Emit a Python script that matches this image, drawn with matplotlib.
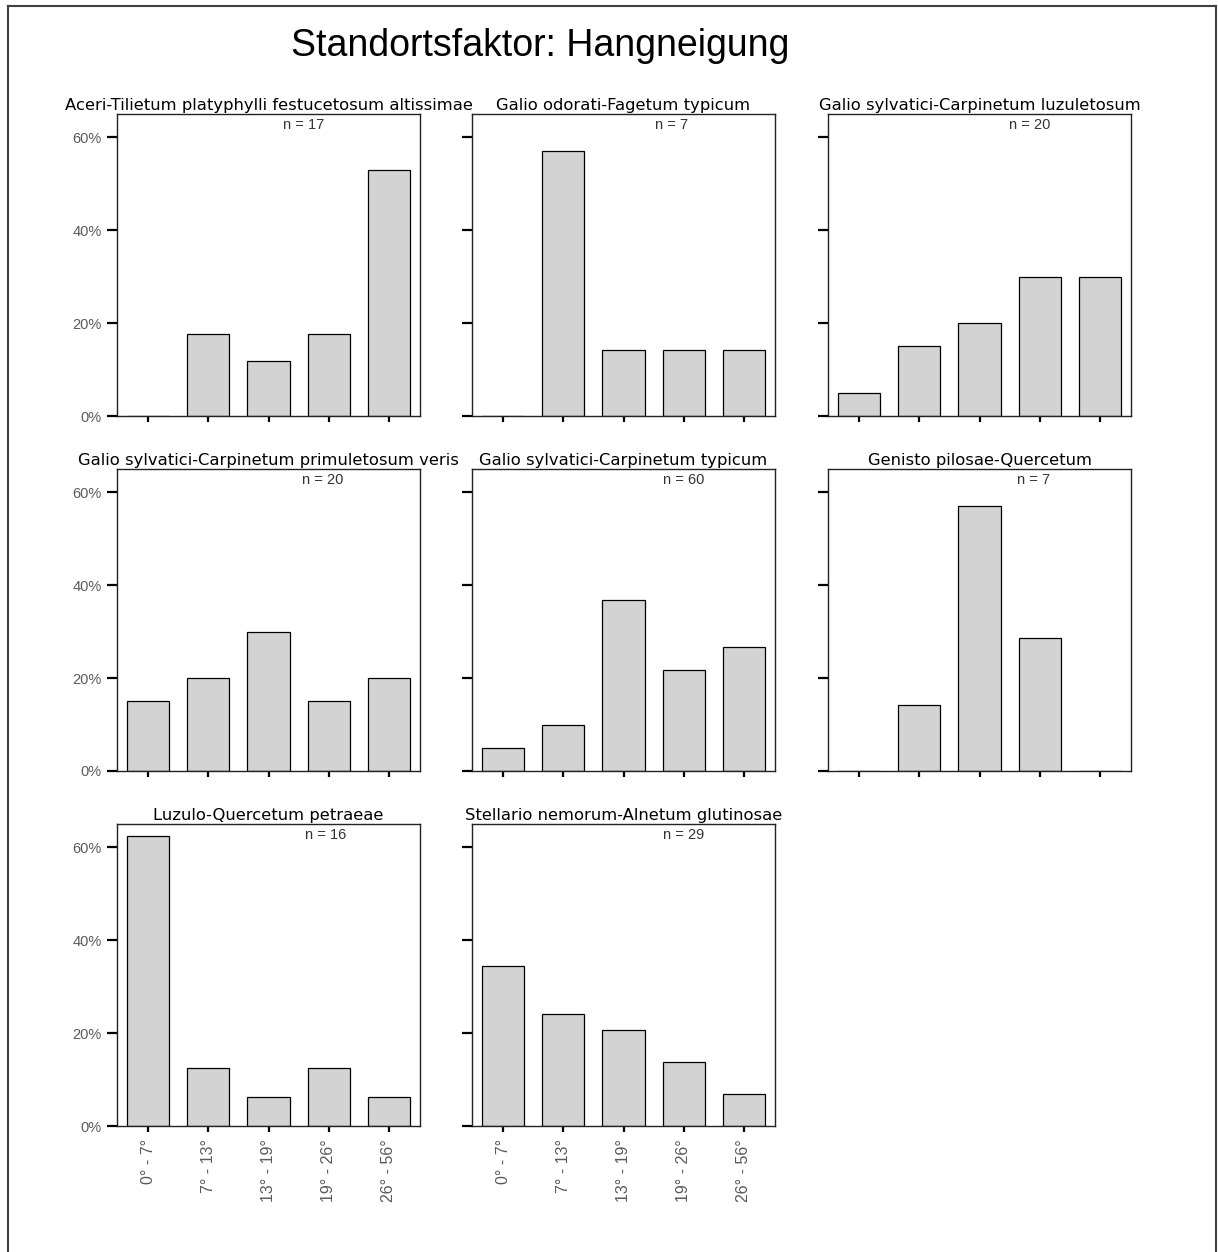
import matplotlib
matplotlib.use("Agg")
import matplotlib.pyplot as plt
from matplotlib.lines import Line2D
from matplotlib.ticker import FuncFormatter

# ---- data (percent of plots per slope class) ----
categories = ["0° - 7°", "7° - 13°", "13° - 19°", "19° - 26°", "26° - 56°"]
titles = [
    "Aceri-Tilietum platyphylli festucetosum altissimae",
    "Galio odorati-Fagetum typicum",
    "Galio sylvatici-Carpinetum luzuletosum",
    "Galio sylvatici-Carpinetum primuletosum veris",
    "Galio sylvatici-Carpinetum typicum",
    "Genisto pilosae-Quercetum",
    "Luzulo-Quercetum petraeae",
    "Stellario nemorum-Alnetum glutinosae",
]
n_values = [17, 7, 20, 20, 60, 7, 16, 29]
aceri = [0.0, 17.6, 11.8, 17.6, 52.9]
fagetum = [0.0, 57.1, 14.3, 14.3, 14.3]
carp_luz = [5.0, 15.0, 20.0, 30.0, 30.0]
carp_prim = [15.0, 20.0, 30.0, 15.0, 20.0]
carp_typ = [5.0, 10.0, 36.7, 21.7, 26.7]
genisto = [0.0, 14.3, 57.1, 28.6, 0.0]
luzulo = [62.5, 12.5, 6.25, 12.5, 6.25]
stellario = [34.5, 24.1, 20.7, 13.8, 6.9]
series = [aceri, fagetum, carp_luz, carp_prim, carp_typ, genisto, luzulo, stellario]
y_ticks = [0, 20, 40, 60]

# ---- layout ----
W, H = 1218, 1252
fig = plt.figure(figsize=(W / 100, H / 100), dpi=100)
col_left = [117, 472, 828]
row_top = [114, 469, 824]
ax_w, ax_h = 303, 302
n_label_x = [0.617, 0.657, 0.667, 0.680, 0.700, 0.680, 0.690, 0.700]

tick_font = ["Liberation Sans Narrow", "Liberation Sans", "DejaVu Sans"]
gray = "#5a5a5a"

for i, (title, vals, n) in enumerate(zip(titles, series, n_values)):
    r, c = divmod(i, 3)
    left = col_left[c] / W
    bottom = 1 - (row_top[r] + ax_h) / H
    ax = fig.add_axes([left, bottom, ax_w / W, ax_h / H])
    x = list(range(len(categories)))
    ax.bar(x, vals, width=0.70, color="#d3d3d3", edgecolor="black", linewidth=0.9)
    ax.set_xlim(-0.52, 4.52)
    ax.set_ylim(0, 65)
    for s in ax.spines.values():
        s.set_linewidth(1.0)
        s.set_color("#222222")
    ax.set_yticks(y_ticks)
    ax.set_xticks(x)
    ax.tick_params(axis="y", direction="out", length=7, width=1.6, color="black",
                   pad=4, labelsize=10.5, labelcolor=gray)
    ax.tick_params(axis="x", direction="out", length=4.5, width=1.6, color="black",
                   pad=5, labelsize=11.5, labelcolor=gray)
    if c == 0:
        ax.yaxis.set_major_formatter(FuncFormatter(lambda v, p: f"{v:.0f}%"))
        for lab in ax.get_yticklabels():
            lab.set_fontfamily(tick_font)
    else:
        ax.set_yticklabels([])
    if r == 2:
        ax.set_xticklabels(categories, rotation=90, fontfamily=tick_font)
    else:
        ax.set_xticklabels([])
    ax.set_title(title, fontsize=11.8, fontfamily=["DejaVu Sans"],
                 color="black", pad=3)
    ax.text(n_label_x[i], 0.965, f"n = {n}", transform=ax.transAxes, ha="center",
            va="center", fontsize=10.5, color="#333333", fontfamily=tick_font)

fig.text(540 / W, 1 - 46 / H, "Standortsfaktor: Hangneigung", ha="center", va="center",
         fontsize=27, fontfamily=["Liberation Sans", "DejaVu Sans"], color="black")

# outer frame (top, left, right)
frame_kw = dict(transform=fig.transFigure, color="#404040", linewidth=1.5)
fig.add_artist(Line2D([8 / W, 8 / W], [0, 1 - 6 / H], **frame_kw))
fig.add_artist(Line2D([8 / W, 1216 / W], [1 - 6 / H, 1 - 6 / H], **frame_kw))
fig.add_artist(Line2D([1216 / W, 1216 / W], [0, 1 - 6 / H], **frame_kw))

fig.savefig("out.png", dpi=100, facecolor="white")
